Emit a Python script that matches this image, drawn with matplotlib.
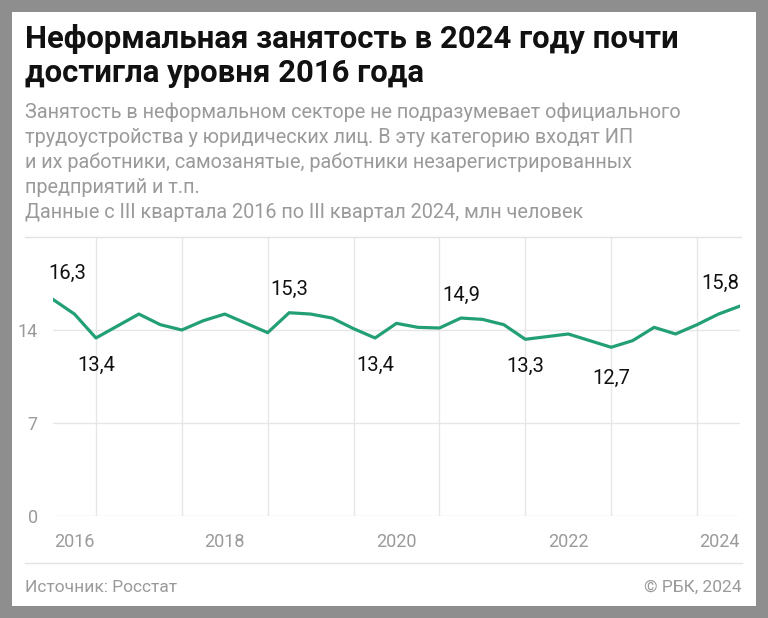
import numpy as np
import matplotlib
matplotlib.use('Agg')
import matplotlib.pyplot as plt
from matplotlib.patches import Rectangle
from matplotlib.lines import Line2D

# квартальные значения, III кв. 2016 - III кв. 2024, млн человек
values = [16.3, 15.2, 13.4, 14.3, 15.2, 14.4, 14.0, 14.7, 15.2, 14.5,
          13.8, 15.3, 15.2, 14.9, 14.1, 13.4, 14.5, 14.2, 14.15, 14.9,
          14.8, 14.4, 13.3, 13.5, 13.7, 13.2, 12.7, 13.2, 14.2, 13.7,
          14.4, 15.2, 15.8]
start_year = 2016.5
labeled = {0: "16,3", 2: "13,4", 11: "15,3", 15: "13,4", 19: "14,9",
           22: "13,3", 26: "12,7", 32: "15,8"}
year_labels = ["2016", "2018", "2020", "2022", "2024"]
year_pos = [2016.75, 2018.5, 2020.5, 2022.5, 2024.5]
yticks = [0, 7, 14]

x = start_year + 0.25 * np.arange(len(values))

plt.rcParams['font.family'] = ['Roboto', 'DejaVu Sans']
W, H = 768, 618
fig = plt.figure(figsize=(W / 100, H / 100), dpi=100)
fig.patch.set_facecolor('#8e8e8e')
fig.add_artist(Rectangle((12 / W, 12 / H), 744 / W, 594 / H,
                         transform=fig.transFigure, facecolor='white',
                         edgecolor='none', zorder=0))

grey = '#9a9a9a'
fig.text(25 / W, 1 - 39 / H, "Неформальная занятость в 2024 году почти",
         fontsize=22.4, fontweight='bold', color='#111111', va='center')
fig.text(25 / W, 1 - 73 / H, "достигла уровня 2016 года",
         fontsize=22.4, fontweight='bold', color='#111111', va='center')
sub = ["Занятость в неформальном секторе не подразумевает официального",
       "трудоустройства у юридических лиц. В эту категорию входят ИП",
       "и их работники, самозанятые, работники незарегистрированных",
       "предприятий и т.п.",
       "Данные с III квартала 2016 по III квартал 2024, млн человек"]
for k, s in enumerate(sub):
    fig.text(25 / W, 1 - (112 + 25.2 * k) / H, s, fontsize=14.3,
             color=grey, va='center')

fig.add_artist(Line2D([25 / W, 741 / W], [1 - 237 / H, 1 - 237 / H],
                      color='#e3e3e3', lw=1))
fig.add_artist(Line2D([25 / W, 742 / W], [1 - 563 / H, 1 - 563 / H],
                      color='#e3e3e3', lw=1))
fig.text(25 / W, 1 - 587 / H, "Источник: Росстат", fontsize=12.5,
         color=grey, va='center')
fig.text(742 / W, 1 - 587 / H, "© РБК, 2024", fontsize=12.5,
         color=grey, va='center', ha='right')

ax = fig.add_axes([53 / W, 102 / H, 687 / W, 279 / H])
ax.set_facecolor('none')
ax.plot(x, values, color='#22a074', lw=2.3, solid_joinstyle='round', zorder=3)
ax.set_xlim(2016.5, 2024.5)
ax.set_ylim(0, 21)
for s in ax.spines.values():
    s.set_visible(False)
for yv in yticks:
    ax.axhline(yv, color='#e6e6e6', lw=1, zorder=1)
for yr in range(2017, 2025):
    ax.axvline(yr, color='#e6e6e6', lw=1, zorder=1)
ax.set_yticks(yticks)
ax.set_yticklabels([str(v) for v in yticks])
ax.set_xticks(year_pos)
ax.set_xticklabels(year_labels)
ax.tick_params(length=0, colors=grey, labelsize=13)
ax.tick_params(axis='y', pad=11)
ax.tick_params(axis='x', pad=12)
ax.get_xticklabels()[-1].set_ha('right')

offsets = {0: (14, 26), 2: (0, -27), 11: (0, 23), 15: (0, -27), 19: (0, 23),
           22: (0, -27), 26: (0, -31), 32: (-20, 23)}
for i, txt in labeled.items():
    dx, dy = offsets[i]
    ax.annotate(txt, (x[i], values[i]), xytext=(dx, dy),
                textcoords='offset pixels', ha='center', va='center',
                fontsize=14.5, color='#111111')

fig.savefig('out.png', dpi=100, facecolor=fig.get_facecolor())
